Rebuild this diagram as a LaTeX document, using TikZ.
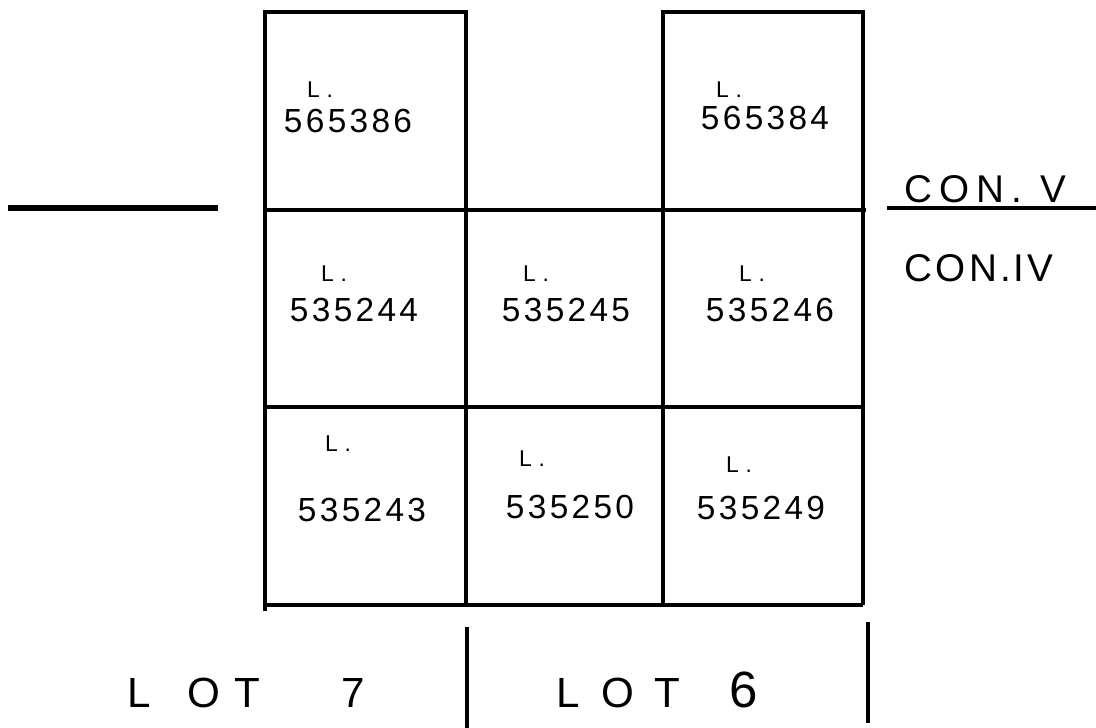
\documentclass[tikz,border=0pt]{standalone}
\usepackage{fontspec}
\setmainfont{Liberation Sans}
\usetikzlibrary{positioning}

\begin{document}
\begin{tikzpicture}[line width=1.1pt]
\tikzstyle{lt}=[inner sep=0pt,font=\fontsize{6.5}{8}\selectfont\addfontfeature{LetterSpace=30}]
\tikzstyle{num}=[inner sep=0pt,font=\fontsize{9.5}{11}\selectfont\addfontfeature{LetterSpace=10}]
\tikzstyle{con}=[inner sep=0pt,anchor=west,font=\fontsize{11}{13}\selectfont\addfontfeature{LetterSpace=18}]
\tikzstyle{lot}=[inner sep=0pt,anchor=base west,font=\fontsize{12}{14}\selectfont]
\useasboundingbox (0,0) rectangle (10.96,7.28);
% parcels
\draw (2.65,1.17) -- (2.65,7.16) -- (4.66,7.16) -- (4.66,1.23);
\draw (6.63,1.23) -- (6.63,7.16) -- (8.63,7.16) -- (8.63,1.23);
\draw (2.65,5.18) -- (8.66,5.18); \draw (2.65,3.21) -- (8.63,3.21); \draw (2.65,1.23) -- (8.63,1.23);
% concession line
\draw[line width=1.6pt] (0.08,5.20) -- (2.18,5.20); \draw (8.87,5.20) -- (10.96,5.20);
\node[con] (cv) at (9.03,5.39) {CON. V}; \node[con,font=\fontsize{11}{13}\selectfont\addfontfeature{LetterSpace=8}] (civ) at (9.03,4.60) {CON.IV};
% top row
\node[lt] (l1) at (3.20,6.38) {L.}; \node[num] (n1) at (3.48,6.07) {565386};
\node[lt] (l2) at (7.29,6.38) {L.}; \node[num] (n2) at (7.65,6.10) {565384};
% middle row
\node[lt] (l3) at (3.34,4.54) {L.}; \node[num] (n3) at (3.54,4.18) {535244};
\node[lt] (l4) at (5.36,4.54) {L.}; \node[num] (n4) at (5.66,4.18) {535245};
\node[lt] (l5) at (7.52,4.54) {L.}; \node[num] (n5) at (7.70,4.18) {535246};
% bottom row
\node[lt] (l6) at (3.38,2.84) {L.}; \node[num] (n6) at (3.62,2.18) {535243};
\node[lt] (l7) at (5.32,2.69) {L.}; \node[num] (n7) at (5.70,2.21) {535250};
\node[lt] (l8) at (7.39,2.63) {L.}; \node[num] (n8) at (7.61,2.20) {535249};
% lots
\node[lot] (lot7) at (1.26,0.20) {L\hspace{0.36cm}O\hspace{0.14cm}T\hspace{0.82cm}7};
\node[lot] (lot6) at (5.55,0.20) {L\hspace{0.21cm}O\hspace{0.20cm}T\hspace{0.50cm}{\fontsize{14.5}{16}\selectfont 6}};
\draw (4.67,1.01) -- (4.67,0.00); \draw (8.68,1.06) -- (8.68,0.05);
\end{tikzpicture}
\end{document}
